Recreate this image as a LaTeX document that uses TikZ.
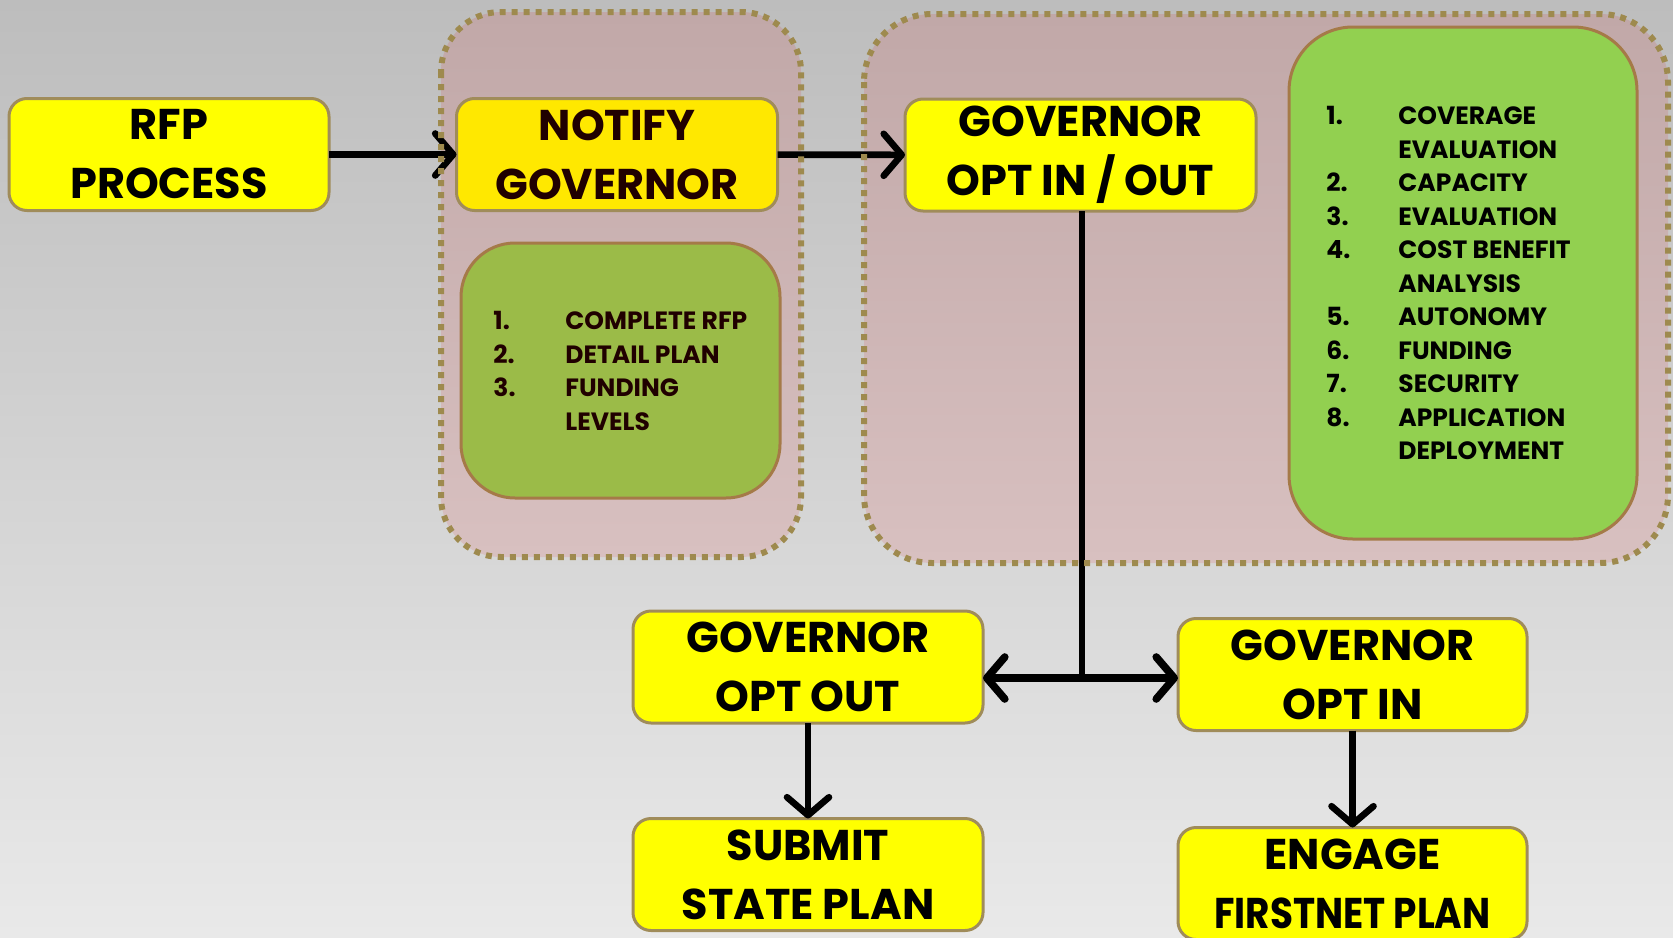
\documentclass[tikz,border=0pt]{standalone}
\usepackage{fontspec}
\setmainfont{Poppins}
\newfontfamily\narrowfont{Poppins}[FakeStretch=0.87]
\usetikzlibrary{arrows.meta}

\definecolor{bgtop}{RGB}{189,189,189}
\definecolor{bgbottom}{RGB}{233,233,233}
\definecolor{grouptop}{RGB}{193,168,168}
\definecolor{groupbottom}{RGB}{216,192,192}
\definecolor{groupline}{RGB}{158,138,78}
\definecolor{boxline}{RGB}{160,140,90}
\definecolor{listline}{RGB}{165,122,72}
\definecolor{plainyellow}{RGB}{255,255,0}
\definecolor{notifyyellow}{RGB}{255,232,0}
\definecolor{notifytext}{RGB}{32,0,0}
\definecolor{olivegreen}{RGB}{155,187,72}
\definecolor{lightgreen}{RGB}{146,208,80}

\tikzset{
  barb/.tip={Straight Barb[length=9pt,width=21pt,round]},
  box/.style={draw=boxline, line width=1.5pt, fill=plainyellow, rounded corners=9pt,
    minimum height=56pt, inner sep=0pt, outer sep=0pt, align=center,
    font=\fontsize{21.5}{29.5}\selectfont\bfseries,
    execute at begin node={\rule{0pt}{18.5pt}}},
  listbox/.style={draw=listline, line width=1.5pt, outer sep=0pt},
  listtext/.style={inner sep=0pt, align=left, anchor=west,
    font=\fontsize{12.5}{16.75}\selectfont\bfseries},
  groupfill/.style={top color=grouptop, bottom color=groupbottom, outer sep=0pt, inner sep=0pt},
  groupborder/.style={draw=groupline, line width=3pt, dash pattern=on 3pt off 3pt},
  flow/.style={line width=3.3pt, -barb},
}
\newcommand{\num}[1]{\makebox[36pt][l]{#1}}
\newcommand{\cont}{\hspace*{36pt}}

\begin{document}
\begin{tikzpicture}[x=0.5pt,y=-0.5pt]
    \useasboundingbox (0,0) rectangle (1673,937);
    \shade[top color=bgtop, bottom color=bgbottom] (0,0) rectangle (1673,937);

    %Groups
    \node (notifygroup) [groupfill, rounded corners=30pt, minimum width=180pt, minimum height=272.5pt] at (621,284.5) {};
    \node (optgroup) [groupfill, rounded corners=34pt, minimum width=402pt, minimum height=274.5pt] at (1266,288.5) {};

    %Steps
    \node (rfp) [box, minimum width=160pt] at (169,154.5) {RFP\\PROCESS};
    \node (notify) [box, minimum width=160.5pt, fill=notifyyellow, text=notifytext] at (617,154.5) {NOTIFY\\GOVERNOR};
    \node (optinout) [box, minimum width=175.5pt] at (1080.5,155) {GOVERNOR\\OPT IN / OUT};
    \node (optout) [box, minimum width=175pt] at (808,667) {GOVERNOR\\OPT OUT};
    \node (optin) [box, minimum width=174.5pt] at (1352.5,674.5) {GOVERNOR\\OPT IN};
    \node (submit) [box, minimum width=175pt] at (808,874.5) {SUBMIT\\STATE PLAN};
    \node (engage) [box, minimum width=174.5pt] at (1352.5,883.5) {ENGAGE\\{\narrowfont FIRSTNET PLAN}};

    %Lists
    \node (notifylist) [listbox, fill=olivegreen, rounded corners=27pt, minimum width=159.5pt, minimum height=127.5pt] at (620.5,370.5) {};
    \node (notifyitems) [listtext, text=notifytext] at (493,371) {\num{1.}COMPLETE RFP\\\num{2.}DETAIL PLAN\\\num{3.}FUNDING\\\cont LEVELS};
    \node (optlist) [listbox, fill=lightgreen, rounded corners=32pt, minimum width=174pt, minimum height=256pt] at (1463,283) {};
    \node (optitems) [listtext] at (1326,283) {\num{1.}COVERAGE\\\cont EVALUATION\\\num{2.}CAPACITY\\\num{3.}EVALUATION\\\num{4.}COST BENEFIT\\\cont ANALYSIS\\\num{5.}AUTONOMY\\\num{6.}FUNDING\\\num{7.}SECURITY\\\num{8.}APPLICATION\\\cont DEPLOYMENT};

    %Arrows
    \coordinate (split) at (1082,678);
    \draw [flow] (rfp) -- (notify);
    \draw [flow] (notify) -- (optinout);
    \draw [line width=3.3pt] (optinout.south -| split) -- (split);
    \draw [flow, line width=3.8pt, barb-barb] (split -| optout.east) -- (split -| optin.west);
    \draw [flow] (optout) -- (submit);
    \draw [flow] (optin) -- (engage);

    %Group borders
    \draw [groupborder, rounded corners=30pt] (notifygroup.north west) rectangle (notifygroup.south east);
    \draw [groupborder, rounded corners=34pt] (optgroup.north west) rectangle (optgroup.south east);
\end{tikzpicture}
\end{document}
